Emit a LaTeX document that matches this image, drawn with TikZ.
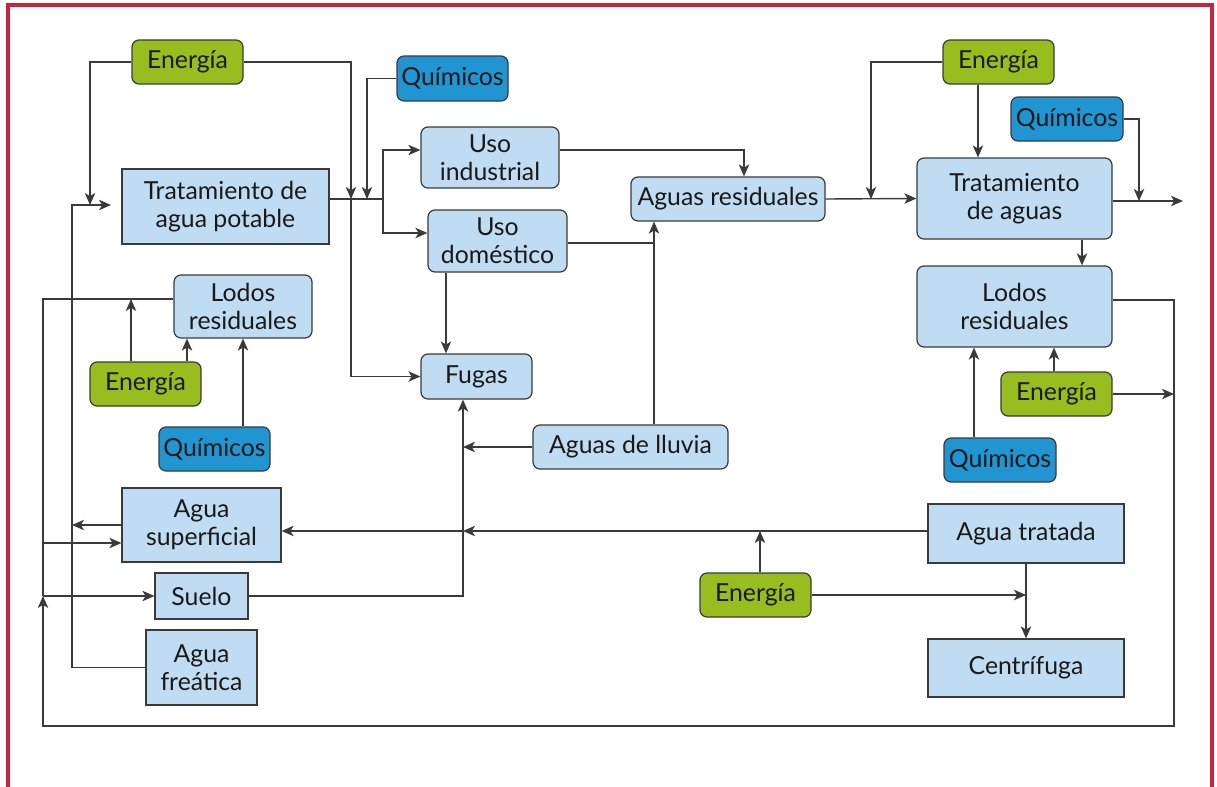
\documentclass[tikz,border=0pt]{standalone}
\usepackage{fontspec}
\setmainfont{Lato}
\usepackage{tikz}
\usetikzlibrary{arrows.meta}
\definecolor{cajaazul}{HTML}{C0DCF3}
\definecolor{verde}{HTML}{97BD1E}
\definecolor{quimico}{HTML}{2195D2}
\definecolor{borde}{HTML}{3A3A3A}
\definecolor{marco}{HTML}{C9233F}
\tikzset{
    >={Stealth[length=6pt,width=5.2pt,inset=1.6pt]}, % Default arrow tip
    caja/.style={draw=borde, fill=cajaazul, line width=0.6pt, inner sep=0pt,
        align=center, font=\fontsize{12.4}{14}\selectfont, text=black!90},
    redonda/.style={caja, rounded corners=3.5pt},
    energia/.style={redonda, fill=verde},
    quimicos/.style={redonda, fill=quimico},
    tam/.style 2 args={minimum width=#1*0.5pt, minimum height=#2*0.5pt},
    flujo/.style={draw=borde, line width=0.7pt}
}

\begin{document}
\begin{tikzpicture}[x=0.5pt, y=-0.5pt]
    \useasboundingbox (0,0) rectangle (1217,787);
    \fill[white] (0,0) rectangle (1217,787);
    \draw
        [marco, line width=1.6pt]
        (8,787) -- (8,5) -- (1212,5) -- (1212,787)
    ;

    % planta potabilizadora
    \draw
        node [energia, tam={111}{44}] (ener1) at (187.5,62) {Energía}
        node [quimicos, tam={111}{45}] (quim1) at (452.5,78.5) {Químicos}
        node [caja, tam={207}{75}] (tratpot) at (225.5,206.5) {Tratamiento de\\agua potable}
        node [redonda, tam={138}{61}] (usoind) at (490,157.5) {Uso\\industrial}
        node [redonda, tam={139}{62}] (usodom) at (497.5,241) {Uso\\doméstico}
        node [redonda, tam={194}{44}] (aguasres) at (728,199) {Aguas residuales}
        node [redonda, tam={111}{45}] (fugas) at (476.5,376.5) {Fugas}
        node [redonda, tam={195}{44}] (lluvia) at (630.5,447) {Aguas de lluvia}
    ;
    % planta de tratamiento
    \draw
        node [energia, tam={111}{44}] (ener2) at (998.5,62) {Energía}
        node [quimicos, tam={112}{44}] (quim2) at (1067,119) {Químicos}
        node [redonda, tam={195}{81}] (trataguas) at (1014.5,198.5) {Tratamiento\\de aguas}
        node [redonda, tam={195}{81}] (lodos2) at (1014.5,306.5) {Lodos\\residuales}
        node [energia, tam={111}{44}] (ener3) at (1056.5,394) {Energía}
        node [quimicos, tam={112}{44}] (quim3) at (1000,460) {Químicos}
        node [caja, tam={196}{59}] (aguatrat) at (1026,533.5) {Agua tratada}
        node [caja, tam={196}{58}] (centri) at (1026,668) {Centrífuga}
        node [energia, tam={111}{44}] (ener5) at (755.5,595) {Energía}
    ;
    % lodos y fuentes
    \draw
        node [redonda, tam={138}{63}] (lodos1) at (243,306.5) {Lodos\\residuales}
        node [energia, tam={111}{44}] (ener4) at (145.5,384) {Energía}
        node [quimicos, tam={111}{44}] (quim4) at (214.5,449) {Químicos}
        node [caja, tam={159}{74}] (aguasup) at (201.5,525) {Agua\\superficial}
        node [caja, tam={93}{46}] (suelo) at (201.5,596) {Suelo}
        node [caja, tam={111}{75}] (aguafre) at (201.5,667.5) {Agua\\freática}
    ;

    \coordinate (potin) at (111,205);
    \coordinate (colin) at (72,205);
    \coordinate (jen0) at (90,205);
    \coordinate (jen1) at (351,199);
    \coordinate (jq1) at (367,199);
    \coordinate (jpot) at (383,199);
    \coordinate (jind) at (744,150);
    \coordinate (jdom) at (654,243);
    \coordinate (jleak) at (463,447);
    \coordinate (jtrat) at (463,531);
    \coordinate (jen2) at (871,199);
    \coordinate (jq2) at (1139,201);
    \coordinate (salida) at (1183,201);
    \coordinate (jr) at (1174,300);
    \coordinate (jl) at (43,299);
    \coordinate (jsup) at (43,543);
    \coordinate (loopin) at (43,596);

    \draw
        [flujo, ->]
        (ener1.west) -| (jen0);
    \draw
        [flujo, ->]
        (aguafre.west) -| (colin) -- (potin);
    \draw
        [flujo]
        (tratpot.east |- jpot) -- (jpot)
    ;
    \draw
        [flujo, ->]
        (ener1.east) -| (jen1)
    ;
    \draw
        [flujo, ->]
        (jen1) |- (fugas.west)
    ;
    \draw
        [flujo, ->]
        (quim1.west) -| (jq1)
    ;
    \draw
        [flujo, ->]
        (jpot) |- (usoind.west |- jind)
    ;
    \draw
        [flujo, ->]
        (jpot) |- (usodom.west |- 0,233)
    ;
    \draw
        [flujo, ->]
        (usoind.east |- jind) -| (aguasres.north -| jind)
    ;
    \draw
        [flujo]
        (usodom.east |- jdom) -- (jdom)
    ;
    \draw
        [flujo, ->]
        (lluvia.north -| jdom) -- (aguasres.south -| jdom)
    ;
    \draw
        [flujo, ->]
        (usodom.south -| 446,0) -- (fugas.north -| 446,0)
    ;
    \draw
        [flujo, ->]
        (lluvia.west) -- (jleak)
    ;
    \draw
        [flujo, ->]
        (suelo.east) -| (fugas.south -| jleak)
    ;
    \draw
        [flujo, ->]
        (aguatrat.west |- jtrat) -- (jtrat)
    ;
    \draw
        [flujo, ->]
        (jtrat) -- (aguasup.east |- jtrat)
    ;
    \draw
        [flujo, ->]
        (ener5.north -| 760,0) -- (jtrat -| 760,0)
    ;
    \draw
        [flujo, ->]
        (ener5.east) -- (ener5.east -| aguatrat.south)
    ;
    \draw
        [flujo, ->]
        (aguatrat.south) -- (centri.north)
    ;

    % derecha
    \draw
        [flujo, ->]
        (aguasres.east) -- (trataguas.west)
    ;
    \draw
        [flujo, ->]
        (ener2.west) -| (jen2)
    ;
    \draw
        [flujo, ->]
        (ener2.south -| 978,0) -- (trataguas.north -| 978,0)
    ;
    \draw
        [flujo, ->]
        (quim2.east) -| (jq2)
    ;
    \draw
        [flujo, ->]
        (trataguas.east |- salida) -- (salida)
    ;
    \draw
        [flujo, ->]
        (trataguas.south -| 1082,0) -- (lodos2.north -| 1082,0)
    ;
    \draw
        [flujo, ->]
        (lodos2.east |- jr) -- (jr) |- (43,726) -- (loopin)
    ;
    \draw
        [flujo, ->]
        (ener3.north -| 1054,0) -- (lodos2.south -| 1054,0)
    ;
    \draw
        [flujo, ->]
        (ener3.east) -- (ener3.east -| jr)
    ;
    \draw
        [flujo, ->]
        (quim3.north -| 974,0) -- (lodos2.south -| 974,0)
    ;

    % izquierda
    \draw
        [flujo]
        (lodos1.west |- jl) -- (jl) -- (loopin)
    ;
    \draw
        [flujo, ->]
        (jsup) -- (aguasup.west |- jsup)
    ;
    \draw
        [flujo, ->]
        (loopin) -- (suelo.west)
    ;
    \draw
        [flujo, ->]
        (aguasup.west) -- (aguasup.west -| colin)
    ;
    \draw
        [flujo, ->]
        (ener4.north -| 131,0) -- (jl -| 131,0)
    ;
    \draw
        [flujo, ->]
        (ener4.north -| 187,0) -- (lodos1.south -| 187,0)
    ;
    \draw
        [flujo, ->]
        (quim4.north -| lodos1.south) -- (lodos1.south)
    ;
\end{tikzpicture}
\end{document}
